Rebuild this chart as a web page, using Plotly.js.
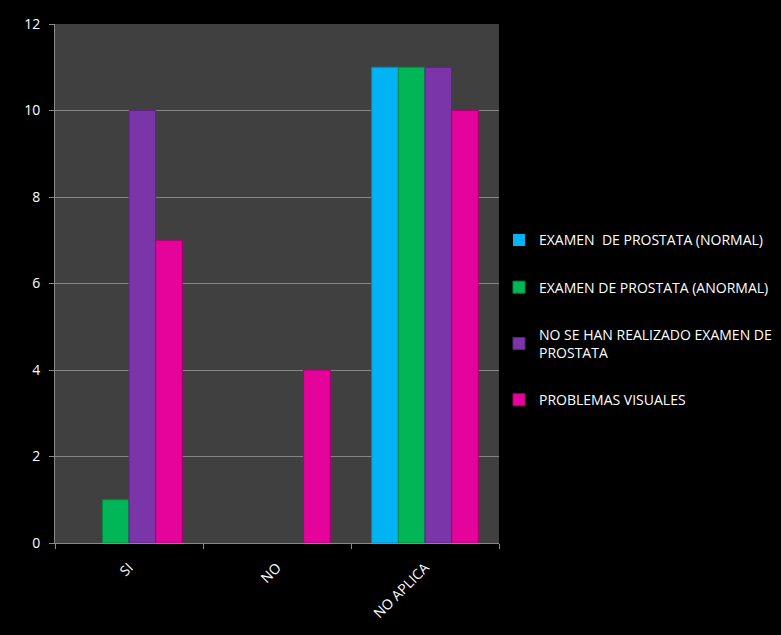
<!DOCTYPE html>
<html>
<head>
<meta charset="utf-8">
<script src="https://cdn.plot.ly/plotly-3.0.1.min.js"></script>
<style>
  html, body { margin: 0; padding: 0; background: #000; }
  #chart { width: 781px; height: 635px; }
</style>
</head>
<body>
<div id="chart"></div>
<script>
// Categories along the x axis
const categories = ['SI', 'NO', 'NO APLICA'];

// Series names (legend labels)
const seriesNames = [
  'EXAMEN  DE PROSTATA (NORMAL)',
  'EXAMEN DE PROSTATA (ANORMAL)',
  'NO SE HAN REALIZADO EXAMEN DE<br>PROSTATA',
  'PROBLEMAS VISUALES'
];

// Counts per category for each series
const examenNormal = [0, 0, 11];
const examenAnormal = [1, 0, 11];
const noRealizado = [10, 0, 11];
const problemasVisuales = [7, 4, 10];

const yTicks = [0, 2, 4, 6, 8, 10, 12];

const seriesValues = [examenNormal, examenAnormal, noRealizado, problemasVisuales];
const fills = ['#00b4f4', '#00b657', '#7a35a8', '#e4049b'];
const edges = ['#0088b8', '#008a40', '#5a2480', '#a8006f'];

const traces = seriesValues.map((vals, i) => ({
  type: 'bar',
  name: seriesNames[i],
  x: categories,
  y: vals,
  legendgroup: 'g' + i,
  marker: {
    color: fills[i],
    // no outline on empty bars so they stay invisible
    line: { color: edges[i], width: vals.map(v => (v > 0 ? 1 : 0)) }
  },
  hoverinfo: 'x+y+name'
}));

const layout = {
  width: 781,
  height: 635,
  paper_bgcolor: '#000000',
  plot_bgcolor: '#404040',
  margin: { l: 55, r: 282, t: 24, b: 92, autoexpand: false },
  font: { family: 'Open Sans, Liberation Sans, sans-serif', size: 14, color: '#ffffff' },
  barmode: 'group',
  bargap: 0.28,
  bargroupgap: 0,
  showlegend: true,
  legend: {
    x: 1.0, xanchor: 'left',
    y: 0.614, yanchor: 'top',
    bgcolor: 'rgba(0,0,0,0)',
    font: { size: 14, color: '#ffffff' },
    traceorder: 'grouped',
    tracegroupgap: 26,
    itemwidth: 30
  },
  xaxis: {
    type: 'category',
    tickangle: -45,
    tickson: 'boundaries',
    ticks: 'outside',
    ticklen: 5,
    tickcolor: '#8a8a8a',
    ticklabelstandoff: 10,
    showline: true,
    linecolor: '#8a8a8a',
    showgrid: false,
    tickfont: { size: 14, color: '#ffffff' }
  },
  yaxis: {
    range: [0, 12],
    tickvals: yTicks,
    ticktext: yTicks.map(String),
    ticks: 'outside',
    ticklen: 5,
    tickcolor: '#8a8a8a',
    ticklabelstandoff: 6,
    showline: true,
    linecolor: '#8a8a8a',
    showgrid: true,
    gridcolor: '#858585',
    gridwidth: 1,
    zeroline: false,
    tickfont: { size: 14, color: '#ffffff' }
  }
};

Plotly.newPlot('chart', traces, layout, { displayModeBar: false, staticPlot: true });
</script>
</body>
</html>
